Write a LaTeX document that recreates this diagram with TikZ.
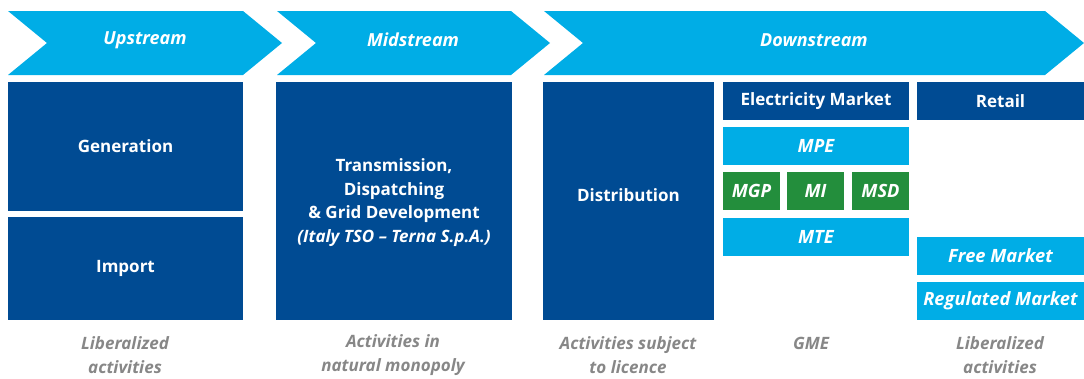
\documentclass[tikz,border=0pt]{standalone}
\usepackage{fontspec}
\setmainfont{Open Sans}
\definecolor{dblue}{RGB}{0,75,147}
\definecolor{lblue}{RGB}{0,173,230}
\definecolor{mgreen}{RGB}{35,142,60}
\definecolor{lgrey}{RGB}{135,135,135}
\begin{document}
\begin{tikzpicture}[x=1pt,y=-1pt,
  chev/.style={fill=lblue,draw=none},
  chevtext/.style={text=white,font=\bfseries\itshape\fontsize{18}{20}\selectfont,inner sep=0pt},
  base/.style={draw=none,inner sep=0pt,text=white,align=center,font=\bfseries\fontsize{17}{23.5}\selectfont},
  dbox/.style={base,fill=dblue},
  lbox/.style={base,fill=lblue,font=\bfseries\itshape\fontsize{18.3}{23.5}\selectfont},
  gbox/.style={base,fill=mgreen,font=\bfseries\itshape\fontsize{18.3}{23.5}\selectfont},
  note/.style={text=lgrey,align=center,inner sep=0pt,font=\bfseries\itshape\fontsize{17}{23.5}\selectfont}
]
\useasboundingbox (0,0) rectangle (1084,378);
% chevrons
\fill[chev] (8,11) -- (243,11) -- (282,43) -- (243,75) -- (8,75) -- (47,43) -- cycle;
\fill[chev] (277,11) -- (511,11) -- (550,43) -- (511,75) -- (277,75) -- (316,43) -- cycle;
\fill[chev] (544,11) -- (1045,11) -- (1084,43) -- (1045,75) -- (544,75) -- (583,43) -- cycle;
\node[chevtext] (up) at (145,40) {Upstream};
\node[chevtext] (mid) at (413,40) {Midstream};
\node[chevtext] (down) at (814,40) {Downstream};
% boxes
\node[dbox,minimum width=235,minimum height=129] (gen) at (125.5,146.5) {Generation};
\node[dbox,minimum width=235,minimum height=103] (imp) at (125.5,268.5) {Import};
\node[dbox,minimum width=236,minimum height=238] (trans) at (394,201) {};
\node[base,anchor=center] (transtext) at (394,202.5) {Transmission,\\Dispatching\\\& Grid Development\\\textit{(Italy TSO -- Terna S.p.A.)}};
\node[dbox,minimum width=171,minimum height=238] (dist) at (628.5,201) {};
\node[base] (disttext) at (628.5,195) {Distribution};
\node[dbox,minimum width=186,minimum height=38] (em) at (816,101) {Electricity Market};
\node[lbox,minimum width=186,minimum height=38] (mpe) at (816,146) {MPE};
\node[gbox,minimum width=57,minimum height=38] (mgp) at (751.5,191) {MGP};
\node[gbox,minimum width=57,minimum height=38] (mi) at (815.5,191) {MI};
\node[gbox,minimum width=57,minimum height=38] (msd) at (880.5,191) {MSD};
\node[lbox,minimum width=186,minimum height=38] (mte) at (816,237) {MTE};
\node[dbox,minimum width=167,minimum height=38] (retail) at (1000.5,101) {Retail};
\node[lbox,minimum width=167,minimum height=38] (free) at (1000.5,256) {Free Market};
\node[lbox,minimum width=167,minimum height=38] (reg) at (1000.5,301) {Regulated Market};
% bottom notes
\node[note] (n1) at (125,355) {Liberalized\\activities};
\node[note] (n2) at (393,355) {Activities in\\natural monopoly};
\node[note] (n3) at (628,355) {Activities subject\\to licence};
\node[note] (n4) at (811,343) {GME};
\node[note] (n5) at (1000,355) {Liberalized\\activities};
\end{tikzpicture}
\end{document}
